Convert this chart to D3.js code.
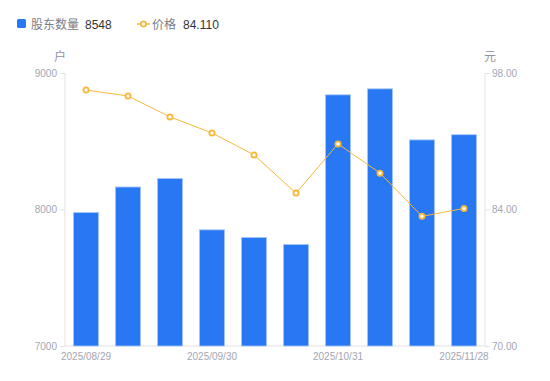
<!DOCTYPE html>
<html><head><meta charset="utf-8">
<script src="https://cdn.jsdelivr.net/npm/d3@7/dist/d3.min.js"></script>
<style>body{margin:0;background:#fff;}svg{display:block;font-family:"Liberation Sans","Noto Sans CJK SC",sans-serif;}</style>
</head><body><svg id="c" width="550" height="381"></svg>
<script>
const categories = ["2025/08/29","2025/09/10","2025/09/19","2025/09/30","2025/10/10","2025/10/20","2025/10/31","2025/11/10","2025/11/20","2025/11/28"];
const holders = [7978, 8165, 8228, 7851, 7795, 7743, 8840, 8884, 8510, 8548];
const prices = [96.25, 95.64, 93.50, 91.85, 89.60, 85.68, 90.73, 87.73, 83.30, 84.11];
const leftTicks = [7000, 8000, 9000];
const rightTicks = [70, 84, 98];
const xLabelIdx = [0, 3, 6, 9];

const svg = d3.select("#c");
const L = 65, R = 485, T = 73, B = 346;
const x = d3.scaleBand().domain(categories).range([L, R]).paddingInner(0.4).paddingOuter(0.2);
const yL = d3.scaleLinear().domain([7000, 9000]).range([B, T]);
const yR = d3.scaleLinear().domain([70, 98]).range([B, T]);
const tickCol = "#a3a6b4", lineCol = "#e3e3e3";
const latin = "'Liberation Sans',Arial,sans-serif";

// left axis
const gl = svg.append("g").attr("transform", `translate(${L},0)`)
  .call(d3.axisLeft(yL).tickValues(leftTicks).tickSize(5).tickPadding(3).tickFormat(d3.format("d")));
// right axis
const gr = svg.append("g").attr("transform", `translate(${R},0)`)
  .call(d3.axisRight(yR).tickValues(rightTicks).tickSize(5).tickPadding(2).tickFormat(d3.format(".2f")));
// bottom axis
const gb = svg.append("g").attr("transform", `translate(0,${B})`)
  .call(d3.axisBottom(x).tickValues(xLabelIdx.map(i => categories[i])).tickSize(0).tickPadding(7));
[gl, gr, gb].forEach(g => {
  g.select(".domain").attr("stroke", lineCol);
  g.selectAll(".tick line").attr("stroke", lineCol);
  g.selectAll("text").attr("fill", tickCol).attr("font-size", 10).attr("font-family", latin);
});
gl.select(".domain").attr("d", `M0,${B}V${T}`);
gr.select(".domain").attr("d", `M0,${B}V${T}`);
gb.select(".domain").attr("d", `M${L},0H${R}`);

// axis names
svg.append("text").attr("x", 60).attr("y", 61).attr("text-anchor", "middle").attr("fill", "#8f93a0").attr("font-size", 12).attr("font-family", "'Noto Sans CJK SC',sans-serif").text("户");
svg.append("text").attr("x", 490).attr("y", 61).attr("text-anchor", "middle").attr("fill", "#8f93a0").attr("font-size", 12).attr("font-family", "'Noto Sans CJK SC',sans-serif").text("元");

// bars
svg.append("g").selectAll("rect").data(holders).join("rect")
  .attr("x", (d, i) => x(categories[i]))
  .attr("width", x.bandwidth())
  .attr("y", d => yL(d))
  .attr("height", d => B - yL(d))
  .attr("fill", "#2878f3")
  .attr("stroke", "#a9c8f7").attr("stroke-width", 0.8);

// line
const lineGen = d3.line().x((d, i) => x(categories[i]) + x.bandwidth() / 2).y(d => yR(d));
svg.append("path").datum(prices).attr("d", lineGen).attr("fill", "none").attr("stroke", "#f9b73a").attr("stroke-width", 1);
svg.append("g").selectAll("circle").data(prices).join("circle")
  .attr("cx", (d, i) => x(categories[i]) + x.bandwidth() / 2)
  .attr("cy", d => yR(d)).attr("r", 2.6)
  .attr("fill", "#fff").attr("stroke", "#f9b73a").attr("stroke-width", 1.8);

// legend
const cjk = "'Noto Sans CJK SC',sans-serif";
const lg = svg.append("g");
lg.append("rect").attr("x", 17).attr("y", 19).attr("width", 9).attr("height", 9).attr("rx", 1.5).attr("fill", "#2878f3");
lg.append("text").attr("x", 31).attr("y", 28.5).attr("font-size", 12).attr("fill", "#7a7d88").attr("font-family", cjk).text("股东数量");
lg.append("text").attr("x", 85).attr("y", 28.5).attr("font-size", 12).attr("fill", "#333").attr("font-family", latin).text(holders[holders.length - 1]);
lg.append("line").attr("x1", 137).attr("x2", 150).attr("y1", 24).attr("y2", 24).attr("stroke", "#f9b73a").attr("stroke-width", 1.5);
lg.append("circle").attr("cx", 143.5).attr("cy", 24).attr("r", 2.6).attr("fill", "#fff").attr("stroke", "#f9b73a").attr("stroke-width", 1.8);
lg.append("text").attr("x", 152).attr("y", 28.5).attr("font-size", 12).attr("fill", "#7a7d88").attr("font-family", cjk).text("价格");
lg.append("text").attr("x", 183).attr("y", 28.5).attr("font-size", 12).attr("fill", "#333").attr("font-family", latin).text(prices[prices.length - 1].toFixed(3));
</script></body></html>
